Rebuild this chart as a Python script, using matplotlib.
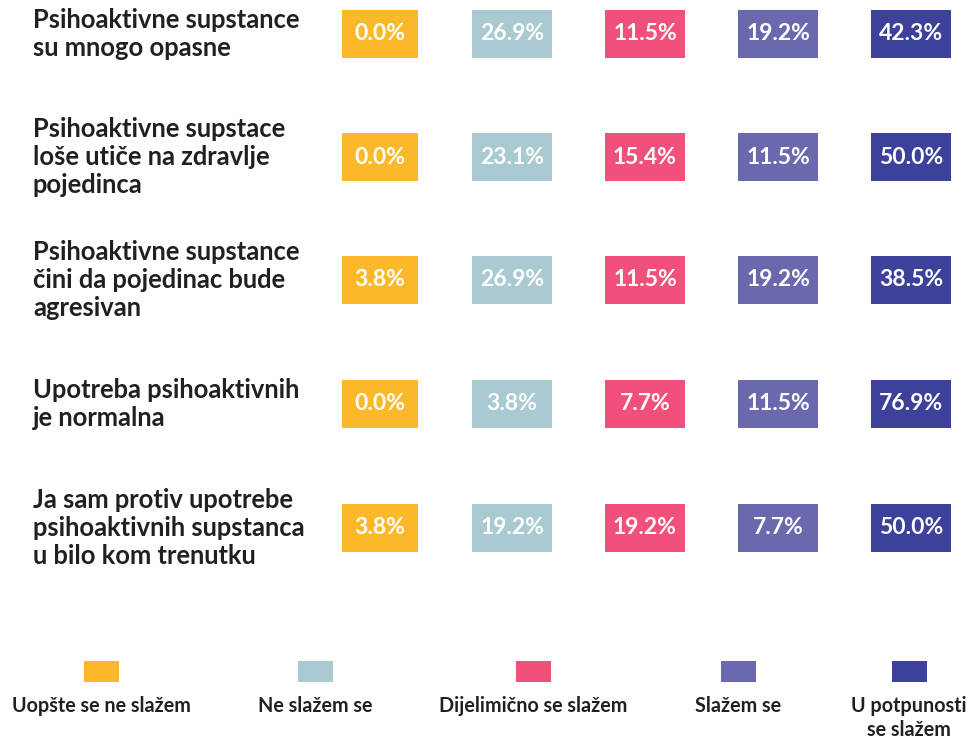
import matplotlib.pyplot as plt
from matplotlib.patches import Rectangle

plt.rcParams['font.family'] = ['Lato', 'DejaVu Sans']

statements = [
    "Psihoaktivne supstance\nsu mnogo opasne",
    "Psihoaktivne supstace\nloše utiče na zdravlje\npojedinca",
    "Psihoaktivne supstance\nčini da pojedinac bude\nagresivan",
    "Upotreba psihoaktivnih\nje normalna",
    "Ja sam protiv upotrebe\npsihoaktivnih supstanca\nu bilo kom trenutku",
]
categories = ["Uopšte se ne slažem", "Ne slažem se", "Dijelimično se slažem",
              "Slažem se", "U potpunosti\nse slažem"]
values = [
    [0.0, 26.9, 11.5, 19.2, 42.3],
    [0.0, 23.1, 15.4, 11.5, 50.0],
    [3.8, 26.9, 11.5, 19.2, 38.5],
    [0.0, 3.8, 7.7, 11.5, 76.9],
    [3.8, 19.2, 19.2, 7.7, 50.0],
]
colors = ['#FBB829', '#A9CAD1', '#F0507A', '#6A69AE', '#3D419A']

# layout in pixel space
W, H = 973, 740
col_left = [342, 472, 605, 738, 871]
col_width = [76, 80, 80, 80, 80]
row_center = [34, 157, 280, 404, 528]
box_h = 48
legend_x = [101, 315, 533, 738, 909]

fig = plt.figure(figsize=(W / 100, H / 100), dpi=100)
ax = fig.add_axes([0, 0, 1, 1])
ax.set_xlim(0, W)
ax.set_ylim(H, 0)
ax.axis('off')

for i, (label, row) in enumerate(zip(statements, values)):
    yc = row_center[i]
    ax.text(33, yc, label, ha='left', va='center', fontsize=18.4,
            fontweight='bold', color='#231F20', linespacing=1.2)
    for j, v in enumerate(row):
        ax.add_patch(Rectangle((col_left[j], yc - box_h / 2), col_width[j], box_h,
                               facecolor=colors[j], edgecolor='none'))
        ax.text(col_left[j] + col_width[j] / 2, yc, f"{v:.1f}%", ha='center',
                va='center', fontsize=16.5, fontweight='bold', color='white')

for j, cat in enumerate(categories):
    ax.add_patch(Rectangle((legend_x[j] - 17, 661), 35, 21,
                           facecolor=colors[j], edgecolor='none'))
    ax.text(legend_x[j], 696, cat, ha='center', va='top', fontsize=14.2,
            fontweight='bold', color='#231F20', linespacing=1.25)

fig.savefig('out.png', dpi=100)
